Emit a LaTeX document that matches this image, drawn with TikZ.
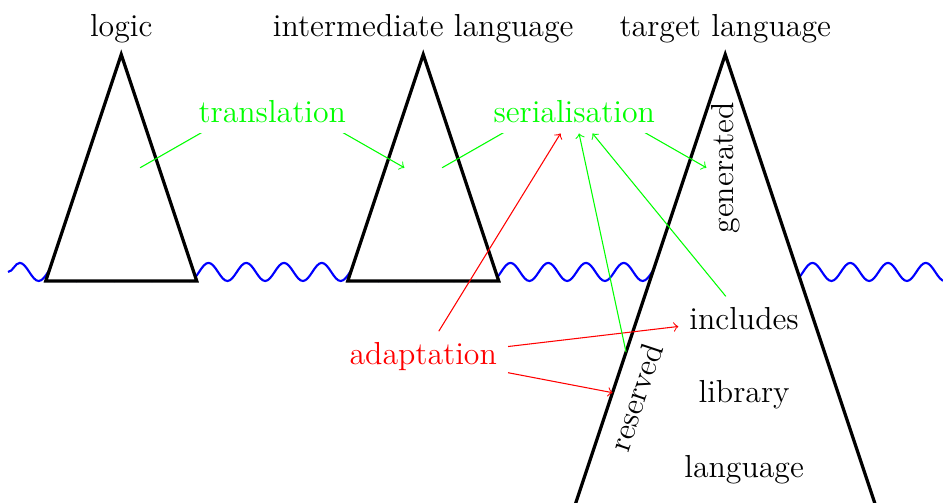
\documentclass[tikz,border=0pt,12pt]{standalone}
\usepackage{tikz}
\usetikzlibrary{decorations.pathmorphing}
\tikzset{
  tri/.style={draw=black, very thick, fill=white},
  sea/.style={draw=blue, thick, decorate,
    decoration={snake, segment length=5mm, amplitude=1.2mm}},
  fwd/.style={draw=green, ->},
  adapt/.style={draw=red, ->},
  gtxt/.style={text=green, fill=white},
  rtxt/.style={text=red}
}

\begin{document}
\begin{tikzpicture}
  \useasboundingbox (-1.606,-2.94) rectangle (10.884,3.722);
  \clip (-1.606,-2.94) rectangle (10.884,3.722);
  % sea level
  \draw[sea] (-1.5,0.12) -- (11.25,0.12);
  \foreach \x/\name/\id in {0/logic/logic, 4/intermediate language/inter}{
    \draw[tri] (\x-1,0) -- (\x,3) -- (\x+1,0) -- cycle;
    \node[above] (\id) at (\x,3) {\name};
  }
  \draw[tri] (6,-3) -- node[pos=.26, sloped, below] (reserved) {reserved} (8,3) -- (10,-3) -- cycle;
  \node[above] (target) at (8,3) {target language};
  % translation and serialisation
  \coordinate (tr-in) at (0.25,1.5);
  \coordinate (tr-top) at (2,2.5);
  \coordinate (tr-out) at (3.75,1.5);
  \coordinate (se-in) at (4.25,1.5);
  \coordinate (se-top) at (6,2.5);
  \coordinate (se-out) at (7.75,1.5);
  \draw[fwd] (tr-in) -- (tr-top) -- (tr-out);
  \draw[fwd] (se-in) -- (se-top) -- (se-out);
  \node[gtxt] (translation) at (2,2.25) {translation};
  \node[gtxt] (serialisation) at (6,2.25) {serialisation};
  \node[rotate=90] (generated) at (8,1.5) {generated};
  \node (includes) at (8.25,-0.5) {includes};
  \node (library) at (8.25,-1.5) {library};
  \node (language) at (8.25,-2.5) {language};
  \node[rtxt] (adaptation) at (4,-1) {adaptation};
  \draw[adapt] (adaptation) -- (serialisation);
  \draw[adapt] (adaptation) -- (includes);
  \draw[adapt] (adaptation) -- (reserved);
  \draw[fwd] (reserved) -- (serialisation);
  \draw[fwd] (includes) -- (serialisation);
\end{tikzpicture}
\end{document}
